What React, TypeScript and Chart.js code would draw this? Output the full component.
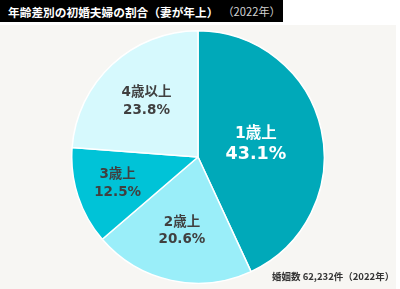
import React, { useEffect, useRef } from "react";
import { Chart, registerables } from "chart.js";

Chart.register(...registerables);

const categories = ["1歳上", "2歳上", "3歳上", "4歳以上"];
const shares = [43.1, 20.6, 12.5, 23.8];
const sliceColors = ["#00a9b9", "#9aeef9", "#00c3d7", "#d6f9fd"];
const labelColors = ["#ffffff", "#404040", "#404040", "#404040"];
const labelRadius = [0.47, 0.6, 0.67, 0.6];

const titleMain = "年齢差別の初婚夫婦の割合（妻が年上）";
const titleYear = "（2022年）";
const footnote = "婚姻数 62,232件（2022年）";

const FONT = '"DejaVu Sans", "Noto Sans CJK JP", sans-serif';

const labelPlugin = {
  id: "sliceLabels",
  afterDatasetsDraw(chart: any) {
    const ctx = chart.ctx;
    const meta = chart.getDatasetMeta(0);
    meta.data.forEach((arc: any, i: number) => {
      const p = arc.getProps(["x", "y", "startAngle", "endAngle", "outerRadius"], true);
      const mid = (p.startAngle + p.endAngle) / 2;
      const r = p.outerRadius * labelRadius[i];
      const cx = p.x + Math.cos(mid) * r;
      const cy = p.y + Math.sin(mid) * r;
      const big = i === 0;
      const gap = big ? 20 : 17.5;
      ctx.save();
      ctx.fillStyle = labelColors[i];
      ctx.textAlign = "center";
      ctx.textBaseline = "middle";
      ctx.font = `bold ${big ? 15.5 : 13.5}px ${FONT}`;
      ctx.fillText(categories[i], cx, cy - gap / 2);
      ctx.font = `bold ${big ? 17.5 : 13.5}px ${FONT}`;
      ctx.fillText(shares[i].toFixed(1) + "%", cx, cy + gap / 2);
      ctx.restore();
    });
  },
};

export default function App() {
  const ref = useRef<HTMLCanvasElement>(null);
  useEffect(() => {
    document.body.style.margin = "0";
    const chart = new Chart(ref.current as HTMLCanvasElement, {
      type: "pie",
      data: {
        labels: categories,
        datasets: [
          {
            data: shares,
            backgroundColor: sliceColors,
            borderColor: "#ffffff",
            borderWidth: 1.5,
          },
        ],
      },
      options: {
        responsive: false,
        animation: false,
        devicePixelRatio: 1,
        layout: { padding: 0 },
        plugins: {
          legend: { display: false },
          tooltip: { enabled: false },
          title: { display: false },
        },
      },
      plugins: [labelPlugin],
    });
    return () => chart.destroy();
  }, []);

  return (
    <div style={{ position: "relative", width: 400, height: 289, background: "#ffffff", overflow: "hidden" }}>
      <div
        style={{
          position: "absolute",
          left: 0,
          top: 0,
          width: 283,
          height: 22,
          background: "#000000",
          display: "flex",
          alignItems: "center",
          paddingLeft: 8,
          boxSizing: "border-box",
          whiteSpace: "nowrap",
        }}
      >
        <span style={{ color: "#ffffff", fontWeight: "bold", fontSize: 11.7, fontFamily: '"Noto Sans CJK JP", sans-serif' }}>
          {titleMain}
        </span>
        <span style={{ color: "#d0d0d0", fontSize: 11.2, marginLeft: 4, fontFamily: '"Noto Sans CJK JP", sans-serif' }}>
          {titleYear}
        </span>
      </div>
      <div
        style={{
          position: "absolute",
          left: 0,
          top: 25,
          width: 396,
          height: 264,
          background: "#f7f6f3",
        }}
      />
      <canvas
        ref={ref}
        width={254}
        height={254}
        style={{ position: "absolute", left: 71, top: 30, width: 254, height: 254 }}
      />
      <div
        style={{
          position: "absolute",
          left: 272,
          top: 269,
          fontSize: 9.5,
          fontWeight: "bold",
          color: "#333333",
          whiteSpace: "nowrap",
          fontFamily: '"Noto Sans CJK JP", sans-serif',
        }}
      >
        {footnote}
      </div>
    </div>
  );
}
